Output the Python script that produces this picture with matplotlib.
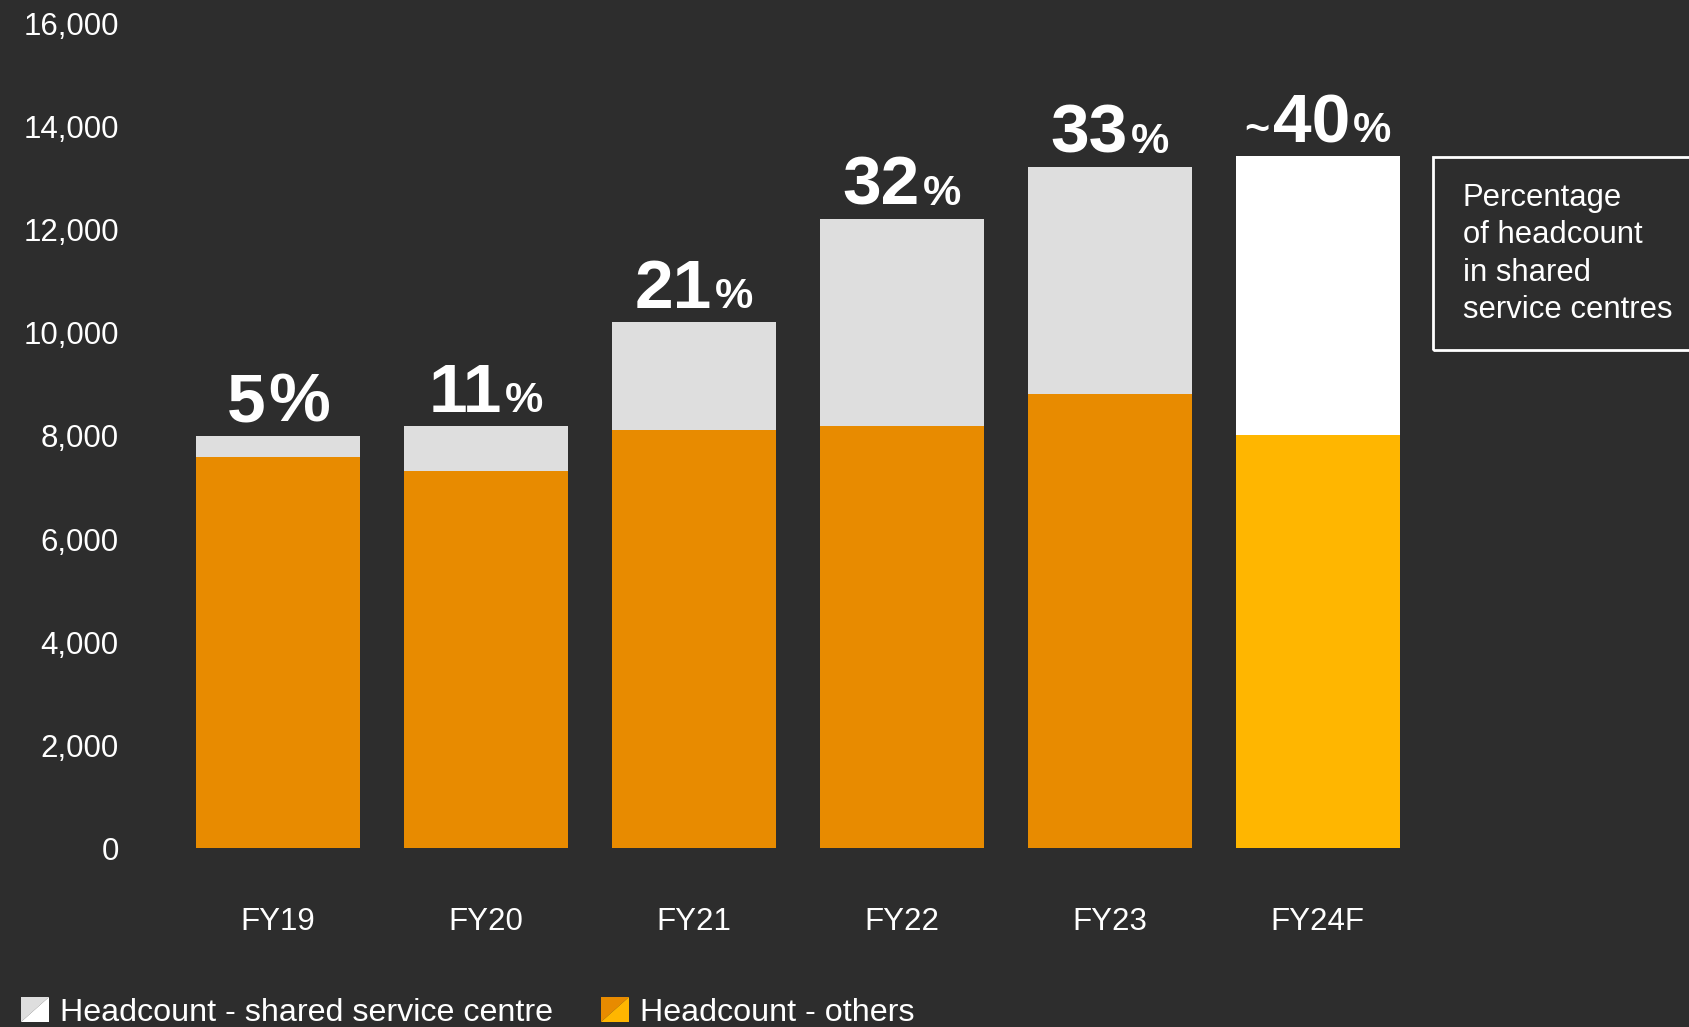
import numpy as np
import matplotlib
matplotlib.use("Agg")
import matplotlib.pyplot as plt
import matplotlib.patches as mpatches
from matplotlib.offsetbox import TextArea, HPacker, AnnotationBbox
from matplotlib.legend_handler import HandlerBase
from matplotlib.ticker import FuncFormatter

plt.rcParams['font.family'] = ['Liberation Sans', 'DejaVu Sans']

# data
categories = ["FY19", "FY20", "FY21", "FY22", "FY23", "FY24F"]
others = [7600, 7320, 8120, 8200, 8810, 8010]
shared = [400, 880, 2090, 4020, 4410, 5420]
pct_nums = [5, 11, 21, 32, 33, 40]
approx = [False, False, False, False, False, True]
legend_labels = ["Headcount - shared service centre", "Headcount - others"]
note = "Percentage\nof headcount\nin shared\nservice centres"

BG = "#2D2D2D"
ORANGE = "#E88B00"
YELLOW = "#FFB600"
GREY = "#DEDEDE"
WHITE = "#FFFFFF"

others_colors = [ORANGE] * 5 + [YELLOW]
shared_colors = [GREY] * 5 + [WHITE]


class SplitPatch:
    def __init__(self, c1, c2):
        self.c1 = c1
        self.c2 = c2


class SplitHandler(HandlerBase):
    # square split on the diagonal: first colour upper left, second lower right
    def create_artists(self, legend, orig_handle, xdescent, ydescent,
                       width, height, fontsize, trans):
        x0, y0 = -xdescent, -ydescent
        up = mpatches.Polygon([[x0, y0], [x0, y0 + height], [x0 + width, y0 + height]],
                              closed=True, facecolor=orig_handle.c1,
                              edgecolor='none', transform=trans)
        lo = mpatches.Polygon([[x0, y0], [x0 + width, y0], [x0 + width, y0 + height]],
                              closed=True, facecolor=orig_handle.c2,
                              edgecolor='none', transform=trans)
        return [up, lo]


fig = plt.figure(figsize=(16.9, 10.27), dpi=100, facecolor=BG)
ax = fig.add_axes([0.0769, 0.1741, 0.7515, 0.8028])
ax.set_facecolor(BG)

x = np.arange(len(categories))
ax.bar(x, others, width=0.79, color=others_colors)
ax.bar(x, shared, bottom=others, width=0.79, color=shared_colors)

ax.set_xlim(-0.713, 5.395)
ax.set_ylim(0, 16000)
for s in ax.spines.values():
    s.set_visible(False)
ax.set_yticks(range(0, 16001, 2000))
ax.yaxis.set_major_formatter(FuncFormatter(lambda v, p: f"{int(v):,}"))
ax.set_xticks(x, categories)
ax.tick_params(length=0, colors='white', labelsize=22.5)
ax.tick_params(axis='x', pad=42)
ax.tick_params(axis='y', pad=8)

# percentage labels above bars
big = dict(color='white', fontsize=50, fontweight='bold')
small = dict(color='white', fontsize=31, fontweight='bold')
for i in x:
    total = others[i] + shared[i]
    parts = []
    if approx[i]:
        parts.append(TextArea("~", textprops=small))
    parts.append(TextArea(str(pct_nums[i]), textprops=big))
    parts.append(TextArea("%", textprops=big if pct_nums[i] < 10 else small))
    pack = HPacker(children=parts, align="baseline", pad=0, sep=2)
    ab = AnnotationBbox(pack, (i, total), xybox=(0, 0), xycoords='data',
                        boxcoords='offset points', box_alignment=(0.5, 0),
                        frameon=False, pad=0)
    ax.add_artist(ab)

# side note box
rect = mpatches.Rectangle((0.848, 0.659), 0.2, 0.188, transform=fig.transFigure,
                          fill=False, edgecolor='white', lw=2)
fig.add_artist(rect)
fig.text(0.8654, 0.7527, note, color='white', fontsize=22.3,
         va='center', ha='left', linespacing=1.33)

handles = [SplitPatch(GREY, WHITE), SplitPatch(ORANGE, YELLOW)]
fig.legend(handles, legend_labels, handler_map={SplitPatch: SplitHandler()},
           loc='center left', bbox_to_anchor=(0.0127, 0.0145), ncol=2,
           frameon=False, fontsize=23.2, labelcolor='white',
           handlelength=0.84, handleheight=0.84, handletextpad=0.36,
           columnspacing=1.5, borderpad=0, borderaxespad=0)

fig.savefig('out.png', dpi=100, facecolor=BG)
